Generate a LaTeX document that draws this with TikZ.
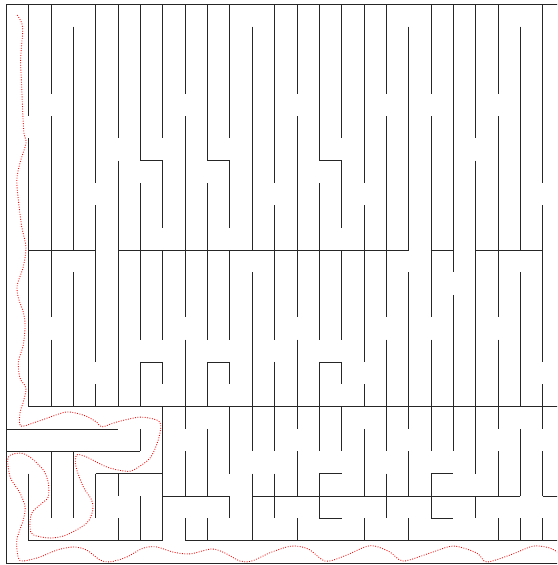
\documentclass[tikz,border=0pt]{standalone}
\usepackage{tikz}

\begin{document}
\begin{tikzpicture}[x=0.5cm, y=-0.5cm,
    wall/.style={line width=0.45pt, black!85},
    route/.style={red, densely dotted, line width=0.55pt}]
  \clip (-0.282,-0.192) rectangle (24.64,25.087);

  % vertical walls, one column per line
  \draw[wall] (0,0) -- (0,25);
  \draw[wall] (1,0) -- (1,5) (1,6) -- (1,18) (1,21) -- (1,24);
  \draw[wall] (2,0) -- (2,4) (2,5) -- (2,14) (2,15) -- (2,18) (2,20) -- (2,23);
  \draw[wall] (3,1) -- (3,11) (3,12) -- (3,18) (3,20) -- (3,23);
  \draw[wall] (4,0) -- (4,8) (4,9) -- (4,16) (4,17) -- (4,18) (4,21) -- (4,23);
  \draw[wall] (5,0) -- (5,6) (5,7) -- (5,18) (5,21) -- (5,22) (5,23) -- (5,24);
  \draw[wall] (6,0) -- (6,7) (6,8) -- (6,15) (6,16) -- (6,18) (6,19) -- (6,20) (6,22) -- (6,24);
  \draw[wall] (7,0) -- (7,6) (7,7) -- (7,10) (7,11) -- (7,15) (7,16) -- (7,17) (7,18) -- (7,24);
  \draw[wall] (8,0) -- (8,4) (8,5) -- (8,14) (8,15) -- (8,19) (8,20) -- (8,22) (8,23) -- (8,24);
  \draw[wall] (9,0) -- (9,7) (9,8) -- (9,15) (9,16) -- (9,18) (9,19) -- (9,22) (9,23) -- (9,24);
  \draw[wall] (10,0) -- (10,6) (10,7) -- (10,10) (10,11) -- (10,15) (10,16) -- (10,17) (10,18) -- (10,21) (10,22) -- (10,23);
  \draw[wall] (11,1) -- (11,11) (11,12) -- (11,20) (11,21) -- (11,24);
  \draw[wall] (12,0) -- (12,8) (12,9) -- (12,15) (12,16) -- (12,20) (12,21) -- (12,23);
  \draw[wall] (13,0) -- (13,4) (13,5) -- (13,14) (13,15) -- (13,19) (13,20) -- (13,22) (13,23) -- (13,24);
  \draw[wall] (14,0) -- (14,7) (14,8) -- (14,15) (14,16) -- (14,20) (14,21) -- (14,23);
  \draw[wall] (15,0) -- (15,6) (15,7) -- (15,10) (15,11) -- (15,15) (15,16) -- (15,17) (15,18) -- (15,20);
  \draw[wall] (16,0) -- (16,8) (16,9) -- (16,16) (16,17) -- (16,18) (16,19) -- (16,22) (16,23) -- (16,24);
  \draw[wall] (17,0) -- (17,4) (17,5) -- (17,14) (17,15) -- (17,20) (17,21) -- (17,23);
  \draw[wall] (18,1) -- (18,11) (18,12) -- (18,19) (18,20) -- (18,22) (18,23) -- (18,24);
  \draw[wall] (19,0) -- (19,4) (19,5) -- (19,14) (19,15) -- (19,20) (19,21) -- (19,23);
  \draw[wall] (20,0) -- (20,12) (20,13) -- (20,20);
  \draw[wall] (21,0) -- (21,6) (21,7) -- (21,21) (21,22) -- (21,23);
  \draw[wall] (22,0) -- (22,4) (22,5) -- (22,14) (22,15) -- (22,19) (22,20) -- (22,22) (22,23) -- (22,24);
  \draw[wall] (23,1) -- (23,11) (23,12) -- (23,18) (23,19) -- (23,22) (23,23) -- (23,24);
  \draw[wall] (24,0) -- (24,8) (24,9) -- (24,16) (24,17) -- (24,19) (24,20) -- (24,22) (24,23) -- (24,24);

  % horizontal walls
  \draw[wall] (0,0) -- (25,0);
  \draw[wall] (6,7) -- (7,7) (9,7) -- (10,7) (14,7) -- (15,7);
  \draw[wall] (1,11) -- (4,11) (5,11) -- (18,11) (19,11) -- (20,11) (21,11) -- (24,11);
  \draw[wall] (6,16) -- (7,16) (9,16) -- (10,16) (14,16) -- (15,16);
  \draw[wall] (1,18) -- (25,18);
  \draw[wall] (0,19) -- (5,19);
  \draw[wall] (0,20) -- (6,20);
  \draw[wall] (4,21) -- (7,21) (14,21) -- (15,21) (19,21) -- (20,21);
  \draw[wall] (7,22) -- (10,22) (11,22) -- (23,22) (24,22) -- (25,22);
  \draw[wall] (14,23) -- (15,23) (19,23) -- (20,23);
  \draw[wall] (1,24) -- (7,24) (8,24) -- (25,24);
  \draw[wall] (0,25) -- (25,25);

  % solution path
  \draw[route] plot[smooth] coordinates {
    (0.49,0.48) (0.69,0.84) (0.73,1.28) (0.64,2.49) (0.69,3.70) (0.73,4.73)
    (0.79,5.76) (0.88,6.21) (0.61,7.10) (0.47,7.86) (0.54,8.76) (0.69,9.96)
    (0.88,10.86) (0.76,11.75) (0.49,12.56) (0.54,13.14) (0.76,13.77) (0.84,14.35)
    (0.76,15.24) (0.54,16.00) (0.61,16.72) (0.88,17.17) (0.76,17.79) (0.61,18.29)
    (0.64,18.87) (1.21,18.73) (1.96,18.47) (2.70,18.24) (3.45,18.38) (4.04,18.69)
    (4.27,18.91) (4.94,18.69) (5.98,18.47) (6.73,18.60) (6.91,18.82) (6.80,19.49)
    (6.43,20.30) (5.68,20.84) (5.24,20.88) (4.49,20.70) (3.60,20.26) (3.15,20.16)
    (3.12,20.70) (3.45,21.60) (3.82,22.18) (3.87,22.63) (3.60,23.21) (2.70,23.74)
    (1.96,23.88) (1.21,23.74) (1.06,23.43) (1.14,22.76) (1.66,22.27) (1.88,22.04)
    (1.88,21.42) (1.66,20.84) (1.06,20.26) (0.61,20.08) (0.09,20.26) (0.17,21.15)
    (0.61,21.86) (0.84,22.49) (0.76,23.07) (0.47,23.97) (0.54,24.77) (0.76,24.91)
    (1.51,24.73) (2.25,24.42) (3.00,24.28) (3.60,24.42) (4.19,24.86) (4.64,24.95)
    (5.39,24.73) (6.13,24.33) (6.73,24.28) (7.47,24.51) (8.22,24.59) (9.19,24.37)
    (9.78,24.55) (10.46,24.91) (10.98,24.91) (11.87,24.51) (12.77,24.24) (13.51,24.37)
    (14.26,24.91) (15.01,24.73) (16.05,24.28) (16.50,24.24) (17.17,24.51) (17.76,24.91)
    (18.96,24.55) (20.00,24.24) (21.05,24.55) (21.49,24.95) (22.54,24.64) (23.58,24.24)
    (24.33,24.33) (24.64,24.50) (25.00,24.70)};
\end{tikzpicture}
\end{document}
